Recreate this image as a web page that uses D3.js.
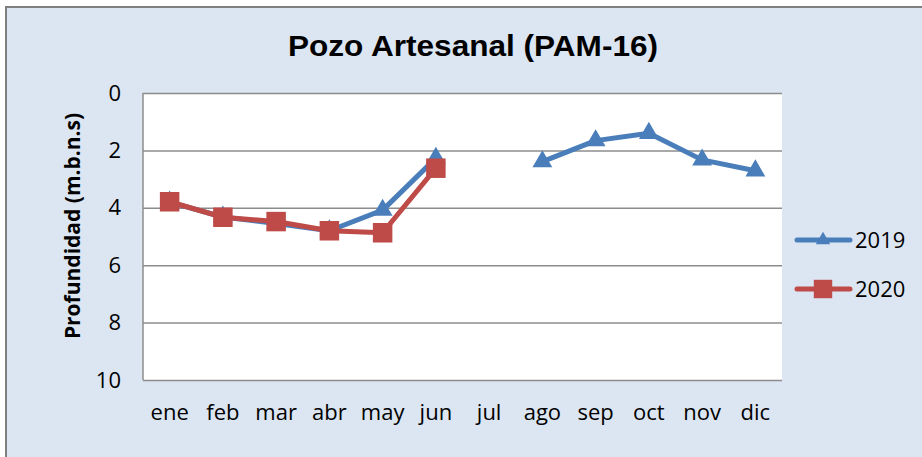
<!DOCTYPE html>
<html>
<head>
<meta charset="utf-8">
<script src="https://cdn.jsdelivr.net/npm/d3@7"></script>
<style>
  body { margin: 0; background: #fff; }
  text { font-family: "Open Sans", "Liberation Sans", sans-serif; }
</style>
</head>
<body>
<div id="chart"></div>
<script>
// chart data
var months = ["ene", "feb", "mar", "abr", "may", "jun", "jul", "ago", "sep", "oct", "nov", "dic"];
var values2019 = [3.8, 4.32, 4.55, 4.8, 4.08, 2.27, null, 2.39, 1.66, 1.4, 2.33, 2.71];
var values2020 = [3.79, 4.33, 4.48, 4.8, 4.87, 2.62, null, null, null, null, null, null];
var yTicks = [0, 2, 4, 6, 8, 10];

var svgWidth = 922;
var svgHeight = 457;

var plot = { left: 143, right: 782, top: 93, bottom: 380 };

var svg = d3.select("#chart")
    .append("svg")
    .attr("width", svgWidth)
    .attr("height", svgHeight);

// outer chart area
svg.append("rect")
    .attr("x", 6)
    .attr("y", 7)
    .attr("width", svgWidth)
    .attr("height", svgHeight)
    .attr("fill", "#dce6f2")
    .attr("stroke", "#7f7f7f")
    .attr("stroke-width", 2);

// plot area
svg.append("rect")
    .attr("x", plot.left)
    .attr("y", plot.top)
    .attr("width", plot.right - plot.left)
    .attr("height", plot.bottom - plot.top)
    .attr("fill", "#fff");

var xScale = d3.scaleBand()
    .domain(months)
    .range([plot.left, plot.right]);

var yScale = d3.scaleLinear()
    .domain([0, 10])
    .range([plot.top, plot.bottom]);

// gridlines
svg.append("g")
    .attr("transform", `translate(${plot.left}, 0)`)
    .call(d3.axisLeft(yScale).tickValues(yTicks).tickSize(-(plot.right - plot.left)).tickFormat(""))
    .call(g => g.select(".domain").remove())
    .selectAll("line")
    .attr("stroke", "#8c8c8c")
    .attr("stroke-width", 1.5);

// left edge of plot
svg.append("line")
    .attr("x1", plot.left).attr("x2", plot.left)
    .attr("y1", plot.top).attr("y2", plot.bottom)
    .attr("stroke", "#8c8c8c").attr("stroke-width", 1.5);

// y tick labels
var yAxis = svg.append("g")
    .attr("transform", `translate(${plot.left}, 0)`)
    .call(d3.axisLeft(yScale).tickValues(yTicks).tickSize(0).tickPadding(22));
yAxis.select(".domain").remove();
yAxis.selectAll("text")
    .attr("font-size", 22)
    .attr("fill", "#000")
    .style("font-family", "'Open Sans', sans-serif");

// x tick labels
var xAxis = svg.append("g")
    .attr("transform", `translate(0, ${plot.bottom})`)
    .call(d3.axisBottom(xScale).tickSize(0).tickPadding(24));
xAxis.select(".domain").remove();
xAxis.selectAll("text")
    .attr("font-size", 22)
    .attr("fill", "#000")
    .style("font-family", "'Open Sans', sans-serif");

// title
svg.append("text")
    .attr("x", 473)
    .attr("y", 56)
    .attr("text-anchor", "middle")
    .attr("font-size", 29)
    .attr("font-weight", "bold")
    .attr("textLength", 370)
    .attr("lengthAdjust", "spacingAndGlyphs")
    .style("font-family", "'Liberation Sans', Arial, sans-serif")
    .text("Pozo Artesanal (PAM-16)");

// y axis label
svg.append("text")
    .attr("transform", `translate(80, 226) rotate(-90)`)
    .attr("text-anchor", "middle")
    .attr("font-size", 21)
    .attr("font-weight", "bold")
    .style("font-family", "'Open Sans', 'Liberation Sans', sans-serif")
    .text("Profundidad (m.b.n.s)");

var blue = "#4a7ebb";
var red = "#be4b48";

var line = d3.line()
    .defined(d => d.v !== null)
    .x(d => xScale(d.m) + xScale.bandwidth() / 2)
    .y(d => yScale(d.v));

var data2019 = months.map((m, i) => ({ m: m, v: values2019[i] }));
var data2020 = months.map((m, i) => ({ m: m, v: values2020[i] }));

var tri = d3.symbol().type(d3.symbolTriangle).size(170);
var sq = d3.symbol().type(d3.symbolSquare).size(380);

// 2019 series
svg.append("path")
    .datum(data2019)
    .attr("d", line)
    .attr("fill", "none")
    .attr("stroke", blue)
    .attr("stroke-width", 5)
    .attr("stroke-linejoin", "round");

svg.selectAll(".pt2019")
    .data(data2019.filter(d => d.v !== null))
    .enter()
    .append("path")
    .attr("class", "pt2019")
    .attr("d", tri)
    .attr("transform", d => `translate(${xScale(d.m) + xScale.bandwidth() / 2}, ${yScale(d.v)})`)
    .attr("fill", blue);

// 2020 series
svg.append("path")
    .datum(data2020)
    .attr("d", line)
    .attr("fill", "none")
    .attr("stroke", red)
    .attr("stroke-width", 5)
    .attr("stroke-linejoin", "round");

svg.selectAll(".pt2020")
    .data(data2020.filter(d => d.v !== null))
    .enter()
    .append("path")
    .attr("class", "pt2020")
    .attr("d", sq)
    .attr("transform", d => `translate(${xScale(d.m) + xScale.bandwidth() / 2}, ${yScale(d.v)})`)
    .attr("fill", red);

// legend
var legend = [
    { name: "2019", color: blue, symbol: d3.symbol().type(d3.symbolTriangle).size(90), y: 240 },
    { name: "2020", color: red, symbol: d3.symbol().type(d3.symbolSquare).size(340), y: 289 }
];

legend.forEach(function (d) {
    svg.append("line")
        .attr("x1", 797).attr("x2", 850)
        .attr("y1", d.y).attr("y2", d.y)
        .attr("stroke", d.color)
        .attr("stroke-width", 5)
        .attr("stroke-linecap", "round");
    svg.append("path")
        .attr("d", d.symbol)
        .attr("transform", `translate(823, ${d.y})`)
        .attr("fill", d.color);
    svg.append("text")
        .attr("x", 855)
        .attr("y", d.y + 8)
        .attr("font-size", 22)
        .text(d.name);
});
</script>
</body>
</html>
